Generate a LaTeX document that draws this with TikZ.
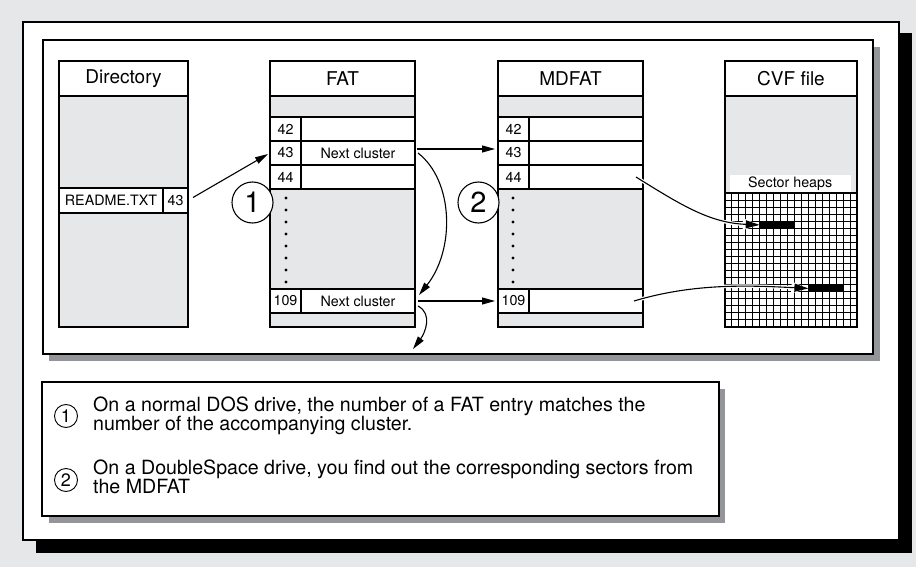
\documentclass[tikz,border=0pt]{standalone}
\usepackage{fontspec}
\setmainfont{TeX Gyre Heros}
\usetikzlibrary{arrows.meta,calc}
\definecolor{bgg}{HTML}{E6E7E8}
\definecolor{shg}{HTML}{939598}
\tikzset{
  lw/.style={line width=1.1pt},
  rectn/.style={rectangle, anchor=north west, inner sep=0pt, outer sep=0pt, draw=black, lw},
  hdr/.style={rectn, fill=white, font=\fontsize{19}{19}\selectfont},
  grayb/.style={rectn, fill=bgg},
  cellw/.style={rectn, fill=white, font=\fontsize{14.3}{14.3}\selectfont},
  gridln/.style={line width=1pt},
  arr/.style={lw, -{Triangle[length=13pt,width=7pt]}},
  harr/.style={line width=3.5pt, white, -{Triangle[length=17pt,width=11pt]}},
  barr/.style={lw, -{Triangle[length=14pt,width=8pt]}},
  bignum/.style={circle, draw, lw, fill=white, minimum size=41pt, inner sep=0pt, font=\fontsize{29}{29}\selectfont},
  smallnum/.style={circle, draw, line width=0.9pt, minimum size=23pt, inner sep=0pt, font=\fontsize{18}{18}\selectfont},
  legtxt/.style={anchor=base west, inner sep=0pt, font=\fontsize{19.6}{19.6}\selectfont},
}
\begin{document}
\begin{tikzpicture}[x=1pt,y=-1pt]
\useasboundingbox (0,0) rectangle (916,567);
\fill[bgg] (0,0) rectangle (916,567);
% outer panel
\fill[black] (36,33) rectangle (912,553);
\draw[lw, fill=white] (23,22) rectangle (899,540);
% inner panel
\fill[shg] (49,47) rectangle (880,361);
\draw[lw, fill=white] (43,40) rectangle (873,354);
% legend panel
\fill[shg] (49,389) rectangle (725,523);
\draw[lw, fill=white] (42,382) rectangle (719,516);

% Directory
\node[hdr, minimum width=129pt, minimum height=35pt] (dirh) at (59,61) {Directory};
\node[grayb, minimum width=129pt, minimum height=231pt] (dirb) at (59,96) {};
\node[cellw, minimum width=104pt, minimum height=25pt] (readme) at (59,188) {README.TXT};
\node[cellw, minimum width=25pt, minimum height=25pt] (r43) at (163,188) {43};

% FAT
\node[hdr, minimum width=145pt, minimum height=35pt] (fath) at (270,61) {FAT};
\node[grayb, minimum width=145pt, minimum height=21pt] (fatg1) at (270,96) {};
\node[cellw, minimum width=31pt, minimum height=24pt] (fat42n) at (270,117) {42};
\node[cellw, minimum width=114pt, minimum height=24pt] (fat42v) at (301,117) {};
\node[cellw, minimum width=31pt, minimum height=24pt] (fat43n) at (270,141) {43};
\node[cellw, minimum width=114pt, minimum height=24pt] (fat43v) at (301,141) {Next cluster};
\node[cellw, minimum width=31pt, minimum height=24pt] (fat44n) at (270,165) {44};
\node[cellw, minimum width=114pt, minimum height=24pt] (fat44v) at (301,165) {};
\node[grayb, minimum width=145pt, minimum height=100pt] (fatg2) at (270,189) {};
\node[cellw, minimum width=31pt, minimum height=24pt] (fat109n) at (270,289) {109};
\node[cellw, minimum width=114pt, minimum height=24pt] (fat109v) at (301,289) {Next cluster};
\node[grayb, minimum width=145pt, minimum height=14pt] (fatg3) at (270,313) {};

% MDFAT
\node[hdr, minimum width=145pt, minimum height=35pt] (mdh) at (498,61) {MDFAT};
\node[grayb, minimum width=145pt, minimum height=21pt] (mdg1) at (498,96) {};
\node[cellw, minimum width=31pt, minimum height=24pt] (md42n) at (498,117) {42};
\node[cellw, minimum width=114pt, minimum height=24pt] (md42v) at (529,117) {};
\node[cellw, minimum width=31pt, minimum height=24pt] (md43n) at (498,141) {43};
\node[cellw, minimum width=114pt, minimum height=24pt] (md43v) at (529,141) {};
\node[cellw, minimum width=31pt, minimum height=24pt] (md44n) at (498,165) {44};
\node[cellw, minimum width=114pt, minimum height=24pt] (md44v) at (529,165) {};
\node[grayb, minimum width=145pt, minimum height=100pt] (mdg2) at (498,189) {};
\node[cellw, minimum width=31pt, minimum height=24pt] (md109n) at (498,289) {109};
\node[cellw, minimum width=114pt, minimum height=24pt] (md109v) at (529,289) {};
\node[grayb, minimum width=145pt, minimum height=14pt] (mdg3) at (498,313) {};

% dots
\foreach \k in {0,...,7} {
  \fill (286,198+12*\k) circle (1.7pt);
  \fill (513,198+12*\k) circle (1.7pt);
}

% CVF file
\node[hdr, minimum width=132pt, minimum height=35pt] (cvfh) at (725,61) {CVF file};
\node[grayb, minimum width=132pt, minimum height=97pt] (cvfg) at (725,96) {};
\node[rectangle, anchor=north west, inner sep=0pt, fill=white, minimum width=121pt, minimum height=18pt, font=\fontsize{14.3}{14.3}\selectfont] (heaps) at (729.5,175) {Sector heaps};
\node[rectn, fill=white, minimum width=132pt, minimum height=134pt] (grid) at (725,193) {};
\foreach \i in {1,...,18} {
  \draw[gridln] (725+\i*6.947,193) -- (725+\i*6.947,327);
  \draw[gridln] (725,193+\i*7.0526) -- (857,193+\i*7.0526);
}
\draw[lw] (725,193) rectangle (857,327);
\node[rectangle, anchor=north west, inner sep=0pt, fill=black, minimum width=34.7pt, minimum height=7pt] (bar1) at (759.7,221.2) {};
\node[rectangle, anchor=north west, inner sep=0pt, fill=black, minimum width=34.7pt, minimum height=7pt] (bar2) at (808.4,284.7) {};

% circles
\node[bignum] (c1) at (252.5,202.5) {1};
\node[bignum] (c2) at (478.5,202.5) {2};

% connectors
\draw[arr] ($(r43.east)+(5,-3)$) -- ($(fat43n.west)+(-2,1)$);
\draw[arr] ($(fat43v.east)+(2,-4)$) -- ($(md43n.west)+(-3,-4)$);
\draw[arr] ($(fat43v.east)+(3,0)$) .. controls +(36,28) and +(36,-45) .. ($(fat109v.east)+(4,-6)$);
\draw[arr] ($(fat109v.east)+(3,0)$) -- ($(md109n.west)+(-3,0)$);
\coordinate (fatnext) at (413,349);
\draw[arr] ($(fat109v.east)+(3,5)$) .. controls +(15,8) and +(12,-16) .. (fatnext);

\draw[harr] ($(md44v.east)+(-7,0)$) .. controls +(45,28) and +(-50,-2) .. (bar1.west);
\draw[barr] ($(md44v.east)+(-7,0)$) .. controls +(45,28) and +(-50,-2) .. (bar1.west);
\draw[harr] ($(md109v.east)+(-9,0)$) .. controls +(60,-18) and +(-60,-3) .. (bar2.west);
\draw[barr] ($(md109v.east)+(-9,0)$) .. controls +(60,-18) and +(-60,-3) .. (bar2.west);

% legend
\node[smallnum] (l1) at (66,416) {1};
\node[smallnum] (l2) at (66,480) {2};
\node[legtxt] (t1a) at (93,411) {On a normal DOS drive, the number of a FAT entry matches the};
\node[legtxt] (t1b) at (93,430) {number of the accompanying cluster.};
\node[legtxt] (t2a) at (93,474) {On a DoubleSpace drive, you find out the corresponding sectors from};
\node[legtxt] (t2b) at (93,493) {the MDFAT};
\end{tikzpicture}
\end{document}
